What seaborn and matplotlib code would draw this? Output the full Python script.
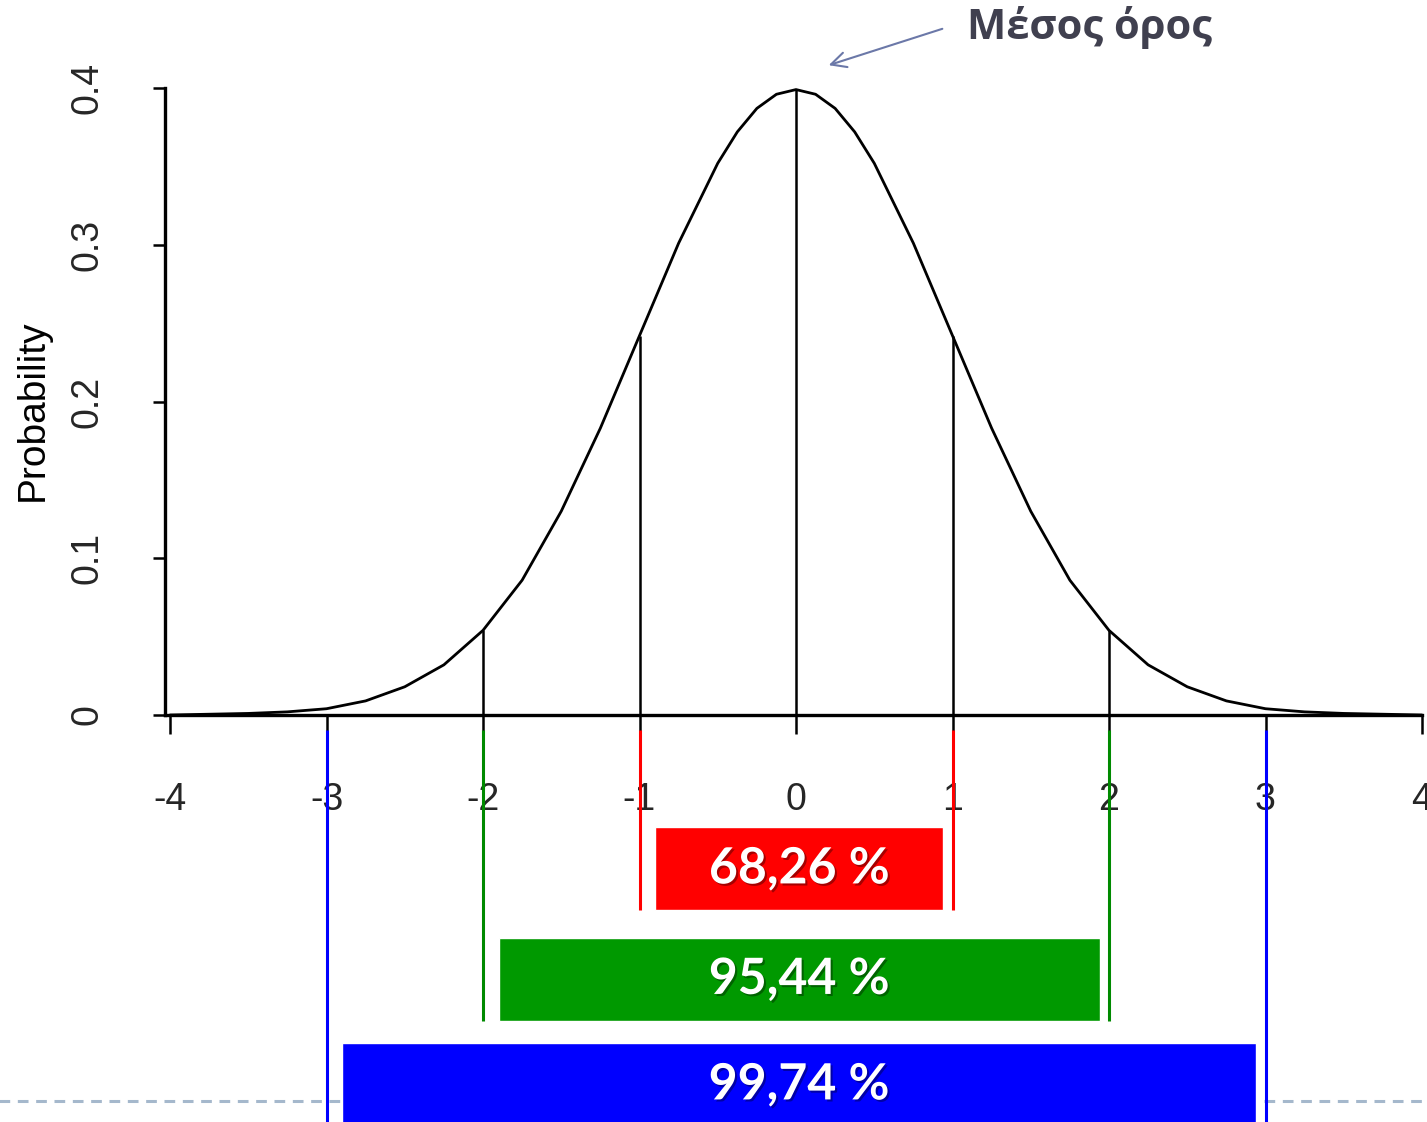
import numpy as np
import pandas as pd
import seaborn as sns
import matplotlib.pyplot as plt
import matplotlib.patheffects as pe

# Καμπύλη κανονικής κατανομής (τιμές διαβασμένες από την εικόνα)
curve_x = [-4, -3.5, -3.25, -3, -2.75, -2.5, -2.25, -2, -1.75, -1.5, -1.25, -1,
           -0.75, -0.5, -0.375, -0.25, -0.125, 0, 0.125, 0.25, 0.375, 0.5, 0.75, 1,
           1.25, 1.5, 1.75, 2, 2.25, 2.5, 2.75, 3, 3.25, 3.5, 4]
curve_y = [0.000, 0.001, 0.002, 0.004, 0.009, 0.018, 0.032, 0.054, 0.086, 0.130,
           0.183, 0.242, 0.301, 0.352, 0.372, 0.387, 0.396, 0.399, 0.396, 0.387,
           0.372, 0.352, 0.301, 0.242, 0.183, 0.130, 0.086, 0.054, 0.032, 0.018,
           0.009, 0.004, 0.002, 0.001, 0.000]

# Κάθετες γραμμές στα σ
mark_x = [-2, -1, 0, 1, 2]
mark_top = [0.054, 0.242, 0.399, 0.242, 0.054]

# Ζώνες ποσοστών
sigma_k = [1, 2, 3]
pct_labels = ["68,26 %", "95,44 %", "99,74 %"]
bar_colors = ["#ff0000", "#009900", "#0000ff"]
line_colors = ["#ff0000", "#008a00", "#0000ff"]

x_ticks = [-4, -3, -2, -1, 0, 1, 2, 3, 4]
y_ticks = [0, 0.1, 0.2, 0.3, 0.4]

sns.set_theme(style="white")
plt.rcParams['font.family'] = ['Liberation Sans', 'DejaVu Sans']

fig = plt.figure(figsize=(14.27, 11.22), dpi=100)
ax = fig.add_axes([165 / 1427, 1 - 715 / 1122, 1257 / 1427, 627 / 1122])
ax.set_facecolor("none")

df = pd.DataFrame({"x": curve_x, "y": curve_y})
sns.lineplot(data=df, x="x", y="y", ax=ax, color="black", linewidth=2.0,
             clip_on=False, zorder=3)
ax.vlines(mark_x, 0, mark_top, color="black", linewidth=1.8, zorder=3)

# κάτω μέρος: γραμμές, μπάρες, κείμενα
line_top = -0.0096
line_bottom = [-0.1244, -0.1952, -0.27]
bar_center = [-0.0982, -0.1687, -0.236]
bar_h = 0.053
for k, lab, bc, lc, lb, yc in zip(sigma_k, pct_labels, bar_colors, line_colors,
                                  line_bottom, bar_center):
    ax.vlines([-k, k], lb, line_top, color=lc, linewidth=2.2, clip_on=False, zorder=4)
    ax.barh(yc, 2 * k - 0.16, left=-k + 0.10, height=bar_h, color=bc,
            clip_on=False, zorder=4)
    ax.text(0.02, yc, lab, color="white", fontsize=36, fontweight="bold",
            family=["Lato", "DejaVu Sans"], ha="center", va="center", zorder=5,
            path_effects=[pe.withSimplePatchShadow(offset=(1.5, -1.5),
                                                   shadow_rgbFace="black", alpha=0.35)])

# διακεκομμένη γραμμή της διαφάνειας
ax.plot([-5.1, 4.05], [-0.2463, -0.2463], color="#a5b8cc", linewidth=2.2,
        linestyle=(0, (3.5, 2.5)), clip_on=False, zorder=1)

# Μέσος όρος
ax.annotate("", xy=(0.192, 0.414), xytext=(0.952, 0.4383),
            arrowprops=dict(arrowstyle="->,head_length=0.9,head_width=0.45",
                            color="#6b78a8", lw=1.5),
            annotation_clip=False)
ax.text(1.093, 0.4383, "Μέσος όρος", color="#40404f", fontsize=30,
        fontweight="bold", family=["Open Sans", "DejaVu Sans"],
        ha="left", va="center", clip_on=False)

ax.set_xlim(-4 - 5 / 156.5, 4)
ax.set_ylim(0, 0.4)
ax.set_xticks(x_ticks)
ax.set_xticklabels([str(t) for t in x_ticks])
ax.set_yticks(y_ticks)
ax.set_yticklabels(["0", "0.1", "0.2", "0.3", "0.4"], rotation=90, va="center")
ax.tick_params(axis="x", length=14, width=1.8, pad=34, labelsize=27, color="black")
ax.tick_params(axis="y", length=9, width=1.8, pad=34, labelsize=27, color="black")
ax.tick_params(bottom=True, left=True)
for s in ["top", "right"]:
    ax.spines[s].set_visible(False)
for s in ["left", "bottom"]:
    ax.spines[s].set_linewidth(2.4)
    ax.spines[s].set_color("black")
ax.set_xlabel("")
ax.set_ylabel("Probability", fontsize=28, color="black")
ax.yaxis.set_label_coords(-0.091, 0.486)

fig.savefig("out.png", dpi=100, facecolor="white")
